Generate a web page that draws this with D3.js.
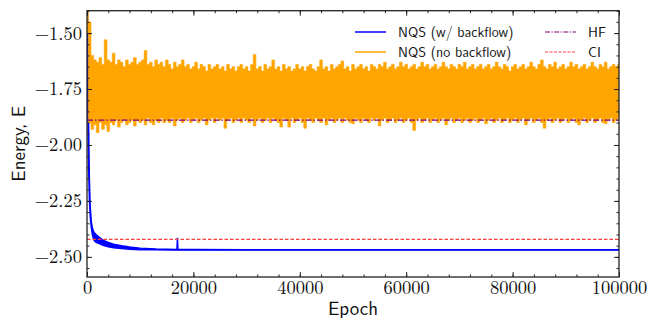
<!DOCTYPE html>
<html><head><meta charset="utf-8">
<script src="https://cdn.jsdelivr.net/npm/d3@7"></script>
<style>body{margin:0;background:#fff}svg{display:block}
.lbl{font-family:'Latin Modern Sans','CMU Sans Serif','Liberation Sans',Arial,sans-serif;fill:#111}
</style>
</head><body>
<svg id="c" width="649" height="320"></svg>
<script>
// ---- data ----
const xTicks = [0, 20000, 40000, 60000, 80000, 100000];
const yTicks = [-2.50, -2.25, -2.00, -1.75, -1.50];
const hfEnergy = -1.889;
const ciEnergy = -2.422;

// NQS (no backflow): per-bin envelope, bins every 500 epochs from 0 to 100000
const orangeBinStep = 500;
const orangeHi = [
-1.38,-1.45,-1.60,-1.62,-1.63,-1.61,-1.64,-1.53,-1.62,-1.63,
-1.59,-1.64,-1.62,-1.63,-1.65,-1.62,-1.64,-1.63,-1.61,-1.64,
-1.63,-1.62,-1.578,-1.64,-1.63,-1.65,-1.62,-1.64,-1.63,-1.65,
-1.62,-1.64,-1.66,-1.63,-1.65,-1.64,-1.62,-1.65,-1.64,-1.66,
-1.65,-1.63,-1.66,-1.64,-1.65,-1.67,-1.64,-1.66,-1.65,-1.64,
-1.66,-1.65,-1.67,-1.64,-1.66,-1.65,-1.67,-1.65,-1.64,-1.66,
-1.65,-1.67,-1.64,-1.596,-1.66,-1.65,-1.67,-1.64,-1.66,-1.65,
-1.62,-1.66,-1.65,-1.67,-1.64,-1.66,-1.65,-1.67,-1.66,-1.64,
-1.66,-1.65,-1.67,-1.65,-1.64,-1.66,-1.67,-1.65,-1.62,-1.66,
-1.65,-1.67,-1.64,-1.66,-1.65,-1.64,-1.625,-1.66,-1.65,-1.67,
-1.64,-1.66,-1.65,-1.64,-1.66,-1.65,-1.67,-1.64,-1.65,-1.66,
-1.64,-1.65,-1.63,-1.66,-1.65,-1.64,-1.66,-1.65,-1.63,-1.65,
-1.64,-1.66,-1.65,-1.64,-1.66,-1.65,-1.63,-1.65,-1.64,-1.66,
-1.65,-1.64,-1.66,-1.65,-1.63,-1.65,-1.66,-1.64,-1.65,-1.66,
-1.64,-1.65,-1.63,-1.66,-1.65,-1.64,-1.66,-1.65,-1.64,-1.66,
-1.65,-1.64,-1.66,-1.65,-1.63,-1.65,-1.66,-1.64,-1.65,-1.67,
-1.65,-1.64,-1.66,-1.65,-1.64,-1.66,-1.65,-1.63,-1.65,-1.66,
-1.64,-1.62,-1.65,-1.66,-1.64,-1.65,-1.63,-1.66,-1.65,-1.64,
-1.66,-1.65,-1.63,-1.65,-1.64,-1.66,-1.65,-1.64,-1.66,-1.65,
-1.63,-1.65,-1.66,-1.64,-1.65,-1.63,-1.66,-1.65,-1.64,-1.65,
-1.64];
const orangeLo = [
-1.50,-1.90,-1.93,-1.91,-1.945,-1.90,-1.93,-1.91,-1.94,-1.90,
-1.91,-1.89,-1.92,-1.90,-1.89,-1.91,-1.90,-1.89,-1.915,-1.89,
-1.90,-1.89,-1.91,-1.88,-1.90,-1.91,-1.89,-1.90,-1.88,-1.90,
-1.89,-1.90,-1.88,-1.915,-1.89,-1.88,-1.90,-1.89,-1.88,-1.90,
-1.89,-1.88,-1.90,-1.89,-1.88,-1.91,-1.89,-1.88,-1.90,-1.88,
-1.89,-1.88,-1.925,-1.89,-1.88,-1.90,-1.89,-1.88,-1.90,-1.88,
-1.89,-1.90,-1.88,-1.915,-1.89,-1.88,-1.90,-1.89,-1.88,-1.90,
-1.88,-1.89,-1.90,-1.92,-1.88,-1.89,-1.92,-1.88,-1.90,-1.89,
-1.88,-1.90,-1.925,-1.88,-1.89,-1.90,-1.88,-1.89,-1.90,-1.88,
-1.91,-1.89,-1.88,-1.90,-1.89,-1.88,-1.90,-1.88,-1.89,-1.90,
-1.905,-1.88,-1.89,-1.90,-1.88,-1.89,-1.90,-1.88,-1.89,-1.88,
-1.915,-1.89,-1.88,-1.90,-1.89,-1.88,-1.90,-1.89,-1.88,-1.90,
-1.89,-1.88,-1.90,-1.935,-1.89,-1.88,-1.90,-1.89,-1.88,-1.90,
-1.89,-1.88,-1.90,-1.89,-1.88,-1.91,-1.89,-1.88,-1.90,-1.89,
-1.88,-1.90,-1.89,-1.88,-1.90,-1.89,-1.88,-1.90,-1.89,-1.88,
-1.905,-1.89,-1.88,-1.90,-1.89,-1.88,-1.90,-1.89,-1.88,-1.90,
-1.89,-1.88,-1.90,-1.89,-1.88,-1.91,-1.89,-1.88,-1.90,-1.89,
-1.88,-1.90,-1.925,-1.89,-1.88,-1.90,-1.89,-1.88,-1.90,-1.89,
-1.88,-1.90,-1.89,-1.88,-1.90,-1.91,-1.89,-1.88,-1.90,-1.89,
-1.88,-1.90,-1.89,-1.88,-1.90,-1.905,-1.89,-1.88,-1.90,-1.89,
-1.88];

// NQS (w/ backflow): envelope
const blueEpochs = [0,150,300,450,600,800,1000,1300,1700,2200,3000,4000,5000,6500,8000,10000,13000,16900,17000,17100,20000,30000,100000];
const blueHi = [-1.20,-1.50,-1.90,-2.15,-2.27,-2.34,-2.37,-2.39,-2.40,-2.41,-2.425,-2.435,-2.443,-2.45,-2.456,-2.461,-2.465,-2.467,-2.415,-2.467,-2.467,-2.468,-2.468];
const blueLo = [-1.30,-1.85,-2.10,-2.25,-2.32,-2.37,-2.40,-2.425,-2.435,-2.44,-2.448,-2.455,-2.46,-2.463,-2.466,-2.468,-2.469,-2.47,-2.47,-2.47,-2.47,-2.47,-2.47];

// ---- drawing ----
const svg = d3.select("#c");
const L = 87, R = 619, T = 10.7, B = 277;
const x = d3.scaleLinear().domain([0, 100000]).range([L, R]);
const y = d3.scaleLinear().domain([-2.59, -1.40]).range([B, T]);

svg.append("defs").append("clipPath").attr("id","clip")
  .append("rect").attr("x",L).attr("y",T).attr("width",R-L).attr("height",B-T);
const plot = svg.append("g").attr("clip-path","url(#clip)");

const blueData = blueEpochs.map((e,i)=>({e, hi:blueHi[i], lo:blueLo[i]}));
plot.append("path").datum(blueData)
  .attr("d", d3.area().x(d=>x(d.e)).y0(d=>y(d.lo)).y1(d=>y(d.hi)))
  .attr("fill","#0000ff").attr("stroke","#0000ff").attr("stroke-width",1.4);

const orangeData = orangeHi.map((h,i)=>({e:i*orangeBinStep, hi:h, lo:orangeLo[i]}));
plot.append("path").datum(orangeData)
  .attr("d", d3.area().curve(d3.curveStep).x(d=>x(d.e)).y0(d=>y(d.lo)).y1(d=>y(d.hi)))
  .attr("fill","#ffa500").attr("stroke","#ffa500").attr("stroke-width",0.6);

plot.append("line").attr("x1",L).attr("x2",R).attr("y1",y(hfEnergy)).attr("y2",y(hfEnergy))
  .attr("stroke","#800080").attr("stroke-width",1.3).attr("stroke-dasharray","6,2,1.5,2");
plot.append("line").attr("x1",L).attr("x2",R).attr("y1",y(ciEnergy)).attr("y2",y(ciEnergy))
  .attr("stroke","#ff3b3b").attr("stroke-width",1.1).attr("stroke-dasharray","3.5,2");

// axes
const fmt = d => d < 0 ? "\u2212" + Math.abs(d).toFixed(2) : d.toFixed(2);
const xMinor = d3.range(0, 100001, 4000);
const yMinor = d3.range(-2.55, -1.399, 0.05);
const tickFont = "'Latin Modern Roman','CMU Serif','Liberation Serif',serif";

function ax(gen, tx, ty){
  return svg.append("g").attr("transform",`translate(${tx},${ty})`).call(gen);
}
ax(d3.axisBottom(x).tickValues(xTicks).tickFormat(d3.format("d")).tickSizeInner(-5).tickSizeOuter(0).tickPadding(4), 0, B);
ax(d3.axisBottom(x).tickValues(xMinor).tickFormat("").tickSizeInner(-2.5).tickSizeOuter(0), 0, B);
ax(d3.axisTop(x).tickValues(xTicks).tickFormat("").tickSizeInner(-5).tickSizeOuter(0), 0, T);
ax(d3.axisTop(x).tickValues(xMinor).tickFormat("").tickSizeInner(-2.5).tickSizeOuter(0), 0, T);
ax(d3.axisLeft(y).tickValues(yTicks).tickFormat(fmt).tickSizeInner(-5).tickSizeOuter(0).tickPadding(5), L, 0);
ax(d3.axisLeft(y).tickValues(yMinor).tickFormat("").tickSizeInner(-2.5).tickSizeOuter(0), L, 0);
ax(d3.axisRight(y).tickValues(yTicks).tickFormat("").tickSizeInner(-5).tickSizeOuter(0), R, 0);
ax(d3.axisRight(y).tickValues(yMinor).tickFormat("").tickSizeInner(-2.5).tickSizeOuter(0), R, 0);
svg.selectAll(".domain").remove();
svg.selectAll(".tick line").attr("stroke","#222").attr("stroke-width",1);
svg.selectAll(".tick text").style("font-family",tickFont).style("font-size","18.5px").attr("fill","#111");

svg.append("rect").attr("x",L).attr("y",T).attr("width",R-L).attr("height",B-T)
  .attr("fill","none").attr("stroke","#222").attr("stroke-width",1.3);

// axis labels
svg.append("text").attr("class","lbl").attr("x",(L+R)/2).attr("y",315).attr("text-anchor","middle")
  .style("font-size","19px").text("Epoch");
svg.append("text").attr("class","lbl").attr("transform",`translate(25,${(T+B)/2}) rotate(-90)`).attr("text-anchor","middle")
  .style("font-size","19px").text("Energy, E");

// legend
const legend = [
  {label:"NQS (w/ backflow)", color:"#0000ff", dash:null, w:1.5, lx:355, ty:32},
  {label:"NQS (no backflow)", color:"#ffa500", dash:null, w:1.5, lx:355, ty:52},
  {label:"HF", color:"#800080", dash:"5,1.5,1.2,1.5", w:1.2, lx:545, ty:32},
  {label:"CI", color:"#ff3b3b", dash:"3,1.5", w:1.1, lx:545, ty:52}
];
const lg = svg.append("g");
legend.forEach(d=>{
  lg.append("line").attr("x1",d.lx).attr("x2",d.lx+31).attr("y1",d.ty).attr("y2",d.ty)
    .attr("stroke",d.color).attr("stroke-width",d.w).attr("stroke-dasharray",d.dash);
  lg.append("text").attr("class","lbl").attr("x",d.lx+43).attr("y",d.ty+5)
    .style("font-size","14px").text(d.label);
});
</script>
</body></html>
